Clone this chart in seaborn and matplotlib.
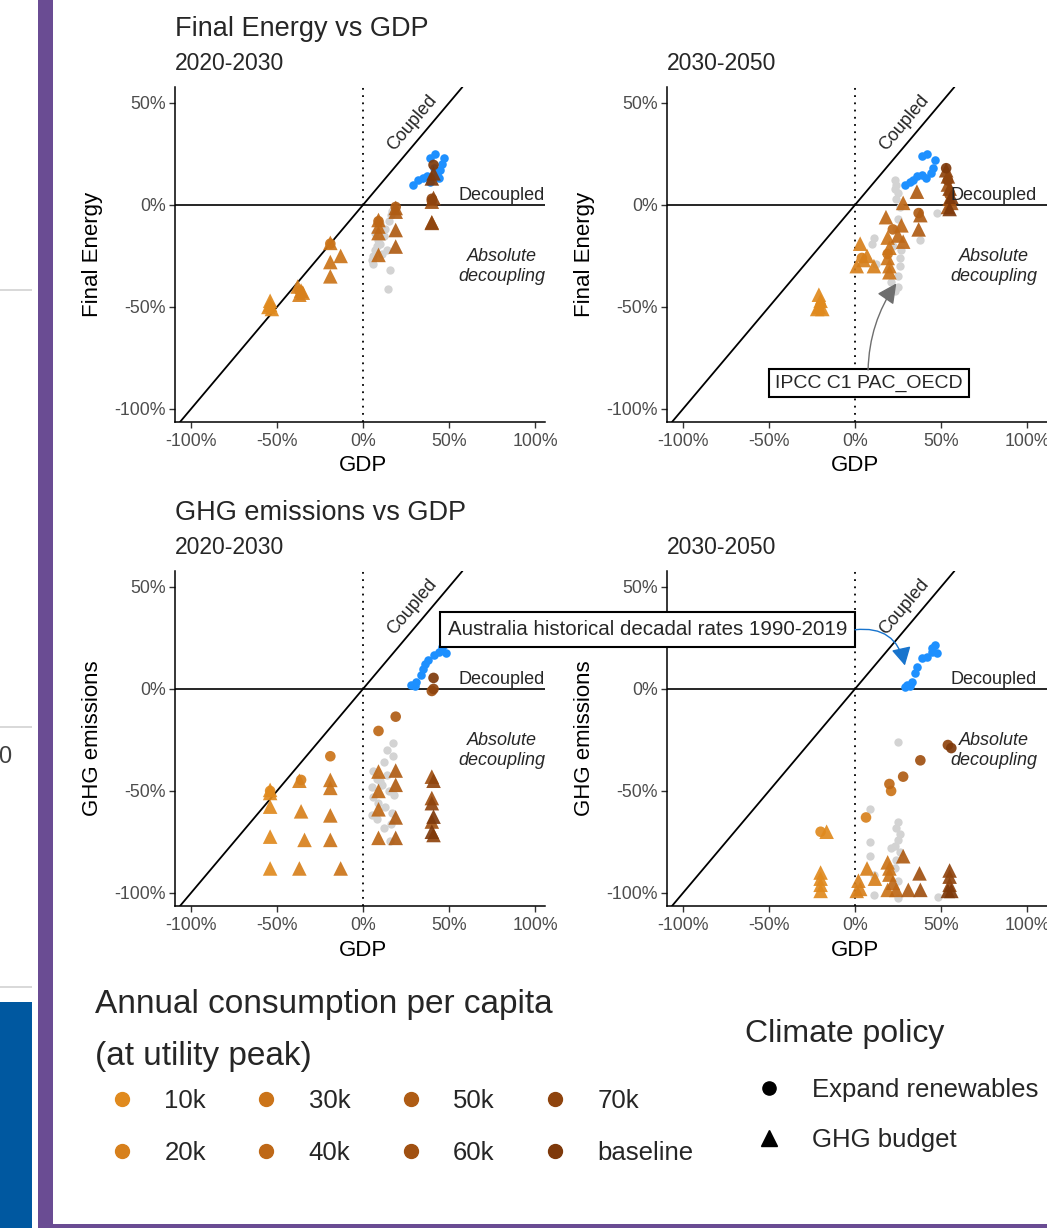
import matplotlib
matplotlib.use("Agg")
import matplotlib.pyplot as plt
from matplotlib.lines import Line2D
from matplotlib.patches import Rectangle
import pandas as pd
import seaborn as sns

W, H = 1047, 1228

# ---------------- data ----------------
CONS_LEVELS = ["10k", "20k", "30k", "40k", "50k", "60k", "70k", "baseline"]
CONS_COLORS = ["#E08A1E", "#D7801C", "#CB7419", "#BE6817",
               "#AF5C14", "#A05011", "#8F440E", "#7E390B"]
POLICIES = ["Expand renewables", "GHG budget"]
POL_CODE = {"R": "Expand renewables", "B": "GHG budget"}

X_TICKS = [-100, -50, 0, 50, 100]
X_TICK_LABELS = ["-100%", "-50%", "0%", "50%", "100%"]
Y_TICKS = [-100, -50, 0, 50]
Y_TICK_LABELS = ["-100%", "-50%", "0%", "50%"]

# Final energy 2020-2030
fe1_cons = ["10k", "10k", "10k", "10k", "10k", "20k", "20k", "20k", "20k", "20k",
            "30k", "30k", "30k", "30k", "30k", "40k", "40k", "40k", "40k", "40k",
            "50k", "50k", "50k", "50k", "50k", "60k", "60k", "60k", "70k", "70k", "70k",
            "baseline", "baseline", "baseline"]
fe1_pol = ["R", "B", "B", "B", "B", "R", "B", "B", "B", "B",
           "R", "B", "B", "B", "B", "R", "B", "B", "B", "B",
           "R", "B", "B", "B", "B", "R", "B", "B", "R", "B", "B",
           "R", "B", "B"]
fe1_gdp = [-54, -54, -54, -53, -55, -37, -38, -36, -37, -35,
           -19, -19, -19, -19, -13, 9, 9, 9, 9, 9,
           19, 19, 19, 19, 19, 40, 40, 40, 40, 41, 40,
           41, 41, 40]
fe1_val = [-50, -47, -49, -51, -50, -42, -40, -42, -44, -43,
           -19, -18.6, -28, -35, -25, -8, -7.4, -10.6, -13.8, -24.5,
           -1, -1.5, -3.3, -12.3, -20.4, 2, 1.6, -8.5, 3, 3.4, -8.8,
           19.6, 15.5, 13]

# Final energy 2030-2050
fe2_cons = ["10k", "10k", "10k", "10k", "10k", "10k", "20k", "20k", "20k", "20k", "20k", "20k",
            "30k", "30k", "30k", "30k", "30k", "30k", "40k", "40k", "40k", "40k", "40k", "40k",
            "50k", "50k", "50k", "50k", "60k", "60k", "60k", "60k", "60k",
            "70k", "70k", "70k", "70k", "baseline", "baseline", "baseline"]
fe2_pol = ["R", "B", "B", "B", "B", "B", "R", "B", "B", "B", "B", "B",
           "R", "B", "B", "B", "B", "B", "R", "B", "B", "B", "B", "B",
           "R", "B", "B", "B", "R", "B", "B", "B", "B",
           "R", "B", "B", "B", "R", "B", "B"]
fe2_gdp = [-20, -21, -20, -21, -19, -22, 4, 3, 5, 1, 7, 11,
           19, 19, 20, 19, 20, 20, 22, 18, 28, 27, 25, 28,
           37, 36, 38, 37, 55, 54, 55, 56, 54,
           54, 53, 54, 55, 53, 55, 56]
fe2_val = [-49, -44, -47, -50, -51, -51, -26, -19, -27, -30, -25, -30,
           -24, -16, -21, -26, -30, -33, -12, -6, 1, -10, -15, -18,
           -4, 6.5, -5, -12, 5, 10, 3, 1, -1,
           12, 17, 14, 8, 18, -2, 4]

# GHG emissions 2020-2030
ghg1_cons = ["10k", "10k", "10k", "10k", "10k", "10k", "20k", "20k", "20k", "20k", "20k",
             "30k", "30k", "30k", "30k", "30k", "30k", "40k", "40k", "40k", "40k", "40k",
             "50k", "50k", "50k", "50k", "50k", "60k", "60k", "60k", "60k",
             "70k", "70k", "70k", "70k", "baseline", "baseline", "baseline"]
ghg1_pol = ["R", "B", "B", "B", "B", "B", "R", "B", "B", "B", "B",
            "R", "B", "B", "B", "B", "B", "R", "B", "B", "B", "B",
            "R", "B", "B", "B", "B", "R", "B", "B", "B",
            "R", "B", "B", "B", "R", "B", "B"]
ghg1_gdp = [-54, -54, -54, -54, -54, -54, -36, -37, -36, -34, -37,
            -19, -19, -19, -19, -19, -13, 9, 9, 9, 9, 9,
            19, 19, 19, 19, 19, 40, 40, 40, 40,
            41, 41, 40, 41, 41, 41, 40]
ghg1_val = [-50, -49.5, -51, -57.7, -72.4, -88, -44.6, -45, -60, -74, -88,
            -33, -44.6, -48.5, -62, -74, -88, -20.6, -40.5, -50, -59, -73,
            -13.6, -40, -47, -63, -73, -1, -43, -53.5, -65,
            0, -45, -56, -71.6, 5.4, -62.6, -70]

# GHG emissions 2030-2050
ghg2_cons = ["10k", "10k", "10k", "10k", "10k", "10k", "20k", "20k", "20k", "20k", "20k", "20k",
             "30k", "30k", "30k", "30k", "30k", "40k", "40k", "40k",
             "50k", "50k", "50k", "60k", "60k", "60k",
             "70k", "70k", "70k", "70k", "baseline", "baseline", "baseline"]
ghg2_pol = ["R", "B", "B", "B", "B", "B", "R", "B", "B", "B", "B", "B",
            "R", "B", "B", "B", "B", "R", "B", "B",
            "R", "B", "B", "R", "B", "B",
            "R", "B", "B", "B", "R", "B", "B"]
ghg2_gdp = [-20, -16.5, -20, -20, -20, -20, 6.4, 2, 3, 7, 11.6, 1,
            21, 19, 20, 20, 19, 20, 24, 22,
            28, 28, 31, 38, 37.5, 38,
            54, 55, 55, 55, 56, 54, 56]
ghg2_val = [-70, -70, -90, -93, -96, -99, -63, -94, -98, -88, -93, -99,
            -50, -85, -88, -91, -98.5, -46.6, -98.5, -95,
            -43, -82, -98.5, -35, -90.4, -98.5,
            -27.5, -89, -92, -96, -29, -99, -99]

# Australia historical decadal rates 1990-2019 (blue)
hist_fe1_gdp = [29, 32, 35, 37, 39, 43, 45, 46, 47, 42, 39, 44, 41]
hist_fe1_val = [10, 12, 13, 14, 11, 15, 17, 20, 23, 25, 23, 13, 18]
hist_fe2_gdp = [29, 32, 36, 39, 44, 45.5, 46.5, 42, 39, 34, 41]
hist_fe2_val = [10, 11.4, 14, 14.7, 15.5, 18, 22, 25, 24, 12, 13]
hist_ghg1_gdp = [28, 30, 31, 34, 35, 38, 41, 44, 46, 47.5, 48, 36]
hist_ghg1_val = [2, 1.5, 3.5, 7, 10, 14, 16.5, 18, 20.5, 22, 17.5, 12]
hist_ghg2_gdp = [29, 30, 33, 35, 36, 38.8, 41.7, 44.6, 46.5, 47.5, 32, 45]
hist_ghg2_val = [1, 2, 3.6, 7.7, 10.9, 15, 15.8, 18.3, 21.6, 17.5, 1.5, 20]

# IPCC scenarios (grey)
ipcc_fe1_gdp = [5, 6, 7, 8, 9, 10, 12, 13, 15, 16, 17, 14, 6, 11, 15.7, 14.5, 7, 10]
ipcc_fe1_val = [-27, -25, -22, -20, -17, -19, -15, -12, -8, -5, -3, -22, -29, -24, -32, -41, -14, -9]
ipcc_fe2_gdp = [23, 24, 23, 25, 24, 26, 25, 24, 11, 10, 12, 26, 26, 25, 21, 25, 38, 47.5, 22, 27, 23]
ipcc_fe2_val = [12, 10, 8, 6, 3, -1, -7, -12, -16, -19, -29, -26, -30, -35, -38, -40, -17, -4, -20, -22, -42]
ipcc_ghg1_gdp = [17.6, 13.8, 17.6, 12, 6, 8, 5, 11, 15, 18, 6, 9, 13, 17, 5, 8, 16, 12, 15.7, 10, 14]
ipcc_ghg1_val = [-26.6, -30, -33, -36, -40, -44, -48, -47, -50, -52, -53, -56, -58, -61, -62, -64, -66, -68, -74.5, -45, -42]
ipcc_ghg2_gdp = [25, 9, 25, 24, 26, 25, 9, 23, 21, 26, 9, 24, 11, 25, 11, 25, 48, 23]
ipcc_ghg2_val = [-26, -59, -65, -68, -71, -74, -75, -77, -78, -80, -82, -84, -91, -94, -101, -102.5, -102, -88]

PANEL_TITLES = ["Final Energy vs GDP", "GHG emissions vs GDP"]
PERIODS = ["2020-2030", "2030-2050"]
Y_LABELS = ["Final Energy", "GHG emissions"]


def make_df(cons, pol, gdp, val):
    return pd.DataFrame({"cons": cons, "policy": [POL_CODE[p] for p in pol],
                         "gdp": gdp, "val": val})


# ---------------- style ----------------
sns.set_theme(style="ticks")
plt.rcParams["font.family"] = ["Liberation Sans", "DejaVu Sans"]
plt.rcParams["axes.linewidth"] = 1.0

fig = plt.figure(figsize=(W / 100, H / 100), dpi=100)
fig.patch.set_facecolor("white")


def fx(px):
    return px / W


def fy(py):
    return 1 - py / H


def add_axes_px(left, top, right, bottom):
    return fig.add_axes([fx(left), fy(bottom), (right - left) / W, (bottom - top) / H])


XLIM = (-109.3, 105.8)
XLIM_R = (-109.3, (1047 - 855) / 86 * 50)
YLIM = (-106.4, 57.8)
palette = dict(zip(CONS_LEVELS, CONS_COLORS))


def draw_panel(ax, df, hx, hy, gx, gy, xlim, ylabel):
    ax.set_xlim(*xlim)
    ax.set_ylim(*YLIM)
    ax.axhline(0, color="black", lw=1.2, zorder=1)
    ax.axvline(0, color="black", lw=1.3, ls=(0, (1, 3)), zorder=1)
    ax.axline((0, 0), slope=1, color="black", lw=1.3, zorder=1)
    sns.scatterplot(x=gx, y=gy, color="#D3D3D3", s=36, linewidth=0, ax=ax, zorder=2)
    sns.scatterplot(x=hx, y=hy, color="#1E90FF", s=38, linewidth=0, ax=ax, zorder=3)
    sns.scatterplot(data=df, x="gdp", y="val", hue="cons", style="policy", size="policy",
                    hue_order=CONS_LEVELS, palette=palette,
                    markers={"Expand renewables": "o", "GHG budget": "^"},
                    sizes={"Expand renewables": 58, "GHG budget": 110},
                    linewidth=0, alpha=0.92, legend=False, ax=ax, zorder=4)
    ax.set_xticks(X_TICKS)
    ax.set_xticklabels(X_TICK_LABELS)
    ax.set_yticks(Y_TICKS)
    ax.set_yticklabels(Y_TICK_LABELS)
    ax.tick_params(axis="both", length=4, width=1, color="#333333", pad=2.5,
                   labelsize=12.8, labelcolor="#4D4D4D")
    ax.tick_params(axis="x", pad=4)
    for s in ["top", "right"]:
        ax.spines[s].set_visible(False)
    for s in ["left", "bottom"]:
        ax.spines[s].set_color("black")
        ax.spines[s].set_linewidth(1.1)
    ax.set_xlabel("GDP", fontsize=16, color="black")
    ax.set_ylabel(ylabel, fontsize=16, color="black")
    w_px = (xlim[1] - xlim[0]) / 50 * 86
    ax.xaxis.set_label_coords((363 - 175) / w_px, -(466 - 422) / 335)
    ax.xaxis.label.set_va("center")
    ax.yaxis.set_label_coords(-(175 - 93) / w_px, 0.5)
    ax.yaxis.label.set_va("center")
    ax.text(28.5, 40, "Coupled", rotation=45, transform_rotates_text=True,
            rotation_mode="anchor", ha="center", va="center", fontsize=13, zorder=5)
    ax.text(80.5, 4.7, "Decoupled", ha="center", va="center", fontsize=13, zorder=5)
    ax.text(80.5, -30, "Absolute\ndecoupling", ha="center", va="center", fontsize=13,
            style="italic", linespacing=1.25, zorder=5)


ax1 = add_axes_px(175, 87, 545, 422)
draw_panel(ax1, make_df(fe1_cons, fe1_pol, fe1_gdp, fe1_val),
           hist_fe1_gdp, hist_fe1_val, ipcc_fe1_gdp, ipcc_fe1_val, XLIM, Y_LABELS[0])
ax2 = add_axes_px(667, 87, 1047, 422)
draw_panel(ax2, make_df(fe2_cons, fe2_pol, fe2_gdp, fe2_val),
           hist_fe2_gdp, hist_fe2_val, ipcc_fe2_gdp, ipcc_fe2_val, XLIM_R, Y_LABELS[0])
ax3 = add_axes_px(175, 571, 545, 906)
draw_panel(ax3, make_df(ghg1_cons, ghg1_pol, ghg1_gdp, ghg1_val),
           hist_ghg1_gdp, hist_ghg1_val, ipcc_ghg1_gdp, ipcc_ghg1_val, XLIM, Y_LABELS[1])
ax4 = add_axes_px(667, 571, 1047, 906)
draw_panel(ax4, make_df(ghg2_cons, ghg2_pol, ghg2_gdp, ghg2_val),
           hist_ghg2_gdp, hist_ghg2_val, ipcc_ghg2_gdp, ipcc_ghg2_val, XLIM_R, Y_LABELS[1])

# annotations
ax2.text(8.1, -87.3, "IPCC C1 PAC_OECD", ha="center", va="center", fontsize=14, zorder=6,
         bbox=dict(boxstyle="square,pad=0.3", fc="white", ec="black", lw=1.5))
ax2.annotate("", xy=(24, -38.5), xytext=(7.6, -80.9),
             arrowprops=dict(arrowstyle="-|>,head_length=0.6,head_width=0.3", color="#6E6E6E",
                             lw=1, connectionstyle="arc3,rad=-0.15", mutation_scale=20,
                             shrinkA=0, shrinkB=0), zorder=6)
ax4.text(-4.7, 29, "Australia historical decadal rates 1990-2019", ha="right", va="center",
         fontsize=14.8, zorder=6, clip_on=False,
         bbox=dict(boxstyle="square,pad=0.38", fc="white", ec="black", lw=1.5))
ax4.annotate("", xy=(29, 11.5), xytext=(0, 29),
             arrowprops=dict(arrowstyle="-|>,head_length=0.55,head_width=0.3", color="#1874CD",
                             lw=1, connectionstyle="arc3,rad=-0.45", mutation_scale=20,
                             shrinkA=0, shrinkB=0), annotation_clip=False, zorder=6)

# titles
fig.text(fx(175), fy(29), PANEL_TITLES[0], fontsize=19.5, ha="left", va="center")
fig.text(fx(175), fy(64), PERIODS[0], fontsize=16.5, ha="left", va="center")
fig.text(fx(667), fy(64), PERIODS[1], fontsize=16.5, ha="left", va="center")
fig.text(fx(175), fy(513), PANEL_TITLES[1], fontsize=19.5, ha="left", va="center")
fig.text(fx(175), fy(548), PERIODS[0], fontsize=16.5, ha="left", va="center")
fig.text(fx(667), fy(548), PERIODS[1], fontsize=16.5, ha="left", va="center")

# legends
fig.text(fx(95), fy(1004), "Annual consumption per capita", fontsize=24, ha="left", va="center")
fig.text(fx(95), fy(1056), "(at utility peak)", fontsize=24, ha="left", va="center")
col_handles = [Line2D([], [], marker="o", linestyle="none", markersize=10,
                      markerfacecolor=c, markeredgecolor=c) for c in CONS_COLORS]
leg1 = fig.legend(col_handles, CONS_LEVELS, ncol=4, loc="upper left",
                  bbox_to_anchor=(fx(95), fy(1089)), frameon=False, fontsize=18.5,
                  handlelength=2.1, handletextpad=0.6, columnspacing=1.3,
                  labelspacing=1.08, borderpad=0, borderaxespad=0)

fig.text(fx(745), fy(1034), "Climate policy", fontsize=23, ha="left", va="center")
pol_handles = [Line2D([], [], marker="o", linestyle="none", markersize=9.5,
                      markerfacecolor="black", markeredgecolor="black"),
               Line2D([], [], marker="^", linestyle="none", markersize=11.5,
                      markerfacecolor="black", markeredgecolor="black")]
leg2 = fig.legend(pol_handles, POLICIES, loc="upper left",
                  bbox_to_anchor=(fx(745), fy(1078)), frameon=False, fontsize=18.5,
                  handlelength=1.9, handletextpad=0.7, labelspacing=1.0,
                  borderpad=0, borderaxespad=0)


# slide surroundings (screenshot frame)
def frect(x0, y0, x1, y1, color):
    fig.add_artist(Rectangle((fx(x0), fy(y1)), (x1 - x0) / W, (y1 - y0) / H,
                             transform=fig.transFigure, facecolor=color, edgecolor="none",
                             zorder=10))


frect(38, 0, 53, 1228, "#6A4C93")
frect(38, 1224, 1047, 1228, "#6A4C93")
frect(0, 289, 32, 291, "#D9D9D9")
frect(0, 726, 32, 728, "#D9D9D9")
frect(0, 986, 32, 988, "#D9D9D9")
frect(0, 1002, 32, 1228, "#0058A0")
fig.text(-0.002, fy(757), "0", fontsize=17, color="#404040", ha="left", va="center")

fig.savefig("out.png", dpi=100, facecolor="white")
